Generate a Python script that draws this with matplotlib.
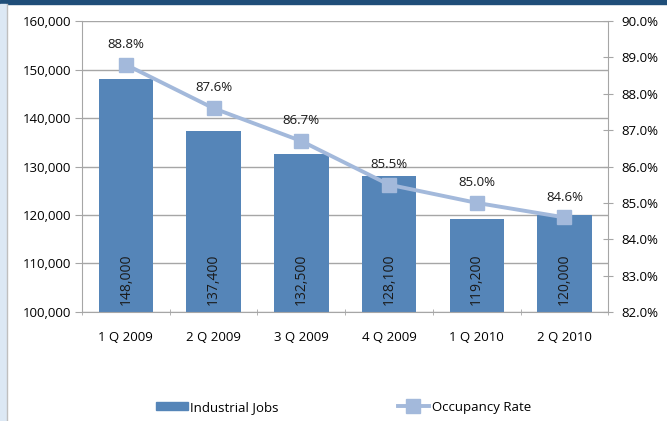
import numpy as np
import matplotlib.pyplot as plt
from matplotlib.patches import Rectangle
from matplotlib.lines import Line2D
from matplotlib.ticker import FuncFormatter

plt.rcParams['font.family'] = ['Open Sans', 'DejaVu Sans']

quarters = ['1 Q 2009', '2 Q 2009', '3 Q 2009', '4 Q 2009', '1 Q 2010', '2 Q 2010']
jobs = [148000, 137400, 132500, 128100, 119200, 120000]
occupancy = [88.8, 87.6, 86.7, 85.5, 85.0, 84.6]

bar_col = '#5585B8'
line_col = '#A3B9DB'
grid_col = '#A6A6A6'

fig = plt.figure(figsize=(6.67, 4.21), dpi=100)
fig.patch.set_facecolor('white')

# frame bits around the chart
fig.add_artist(Rectangle((0, 0.991), 1, 0.009, transform=fig.transFigure, color='#1F4E79', zorder=0))
fig.add_artist(Rectangle((0, 0), 0.009, 0.991, transform=fig.transFigure, color='#DCE8F4', zorder=0))
fig.add_artist(Line2D([0.0105, 0.0105], [0, 0.991], transform=fig.transFigure, color='#BFBFBF', lw=1))

ax = fig.add_axes([0.123, 0.259, 0.789, 0.691])
x = np.arange(len(quarters))
ax.bar(x, jobs, width=0.62, color=bar_col, zorder=2)
ax.set_ylim(100000, 160000)
ax.set_xlim(-0.5, len(quarters) - 0.5)
ax.set_yticks(np.arange(100000, 160001, 10000))
ax.yaxis.set_major_formatter(FuncFormatter(lambda v, p: f'{int(v):,}'))
ax.grid(axis='y', color=grid_col, lw=1, zorder=0)
ax.set_axisbelow(True)
ax.set_xticks(x)
ax.set_xticklabels(quarters)
ax.tick_params(axis='x', length=0, pad=14, labelsize=9.5)
ax.set_xticks(np.arange(-0.5, len(quarters)), minor=True)
ax.tick_params(axis='x', which='minor', length=5, direction='inout', color=grid_col)
ax.tick_params(axis='y', length=5, color=grid_col, labelsize=9.5, pad=3)
for s in ['top', 'right']:
    ax.spines[s].set_visible(False)
for s in ['left', 'bottom']:
    ax.spines[s].set_color(grid_col)

for xi, v in zip(x, jobs):
    ax.text(xi, 101500, f'{v:,}', rotation=90, ha='center', va='bottom', fontsize=10, color='#1a1a1a', zorder=3)

ax2 = ax.twinx()
ax2.plot(x, occupancy, color=line_col, lw=2.8, marker='s', markersize=10, zorder=4)
ax2.set_ylim(82, 90)
ax2.set_yticks(np.arange(82, 90.1, 1))
ax2.yaxis.set_major_formatter(FuncFormatter(lambda v, p: f'{v:.1f}%'))
ax2.tick_params(axis='y', length=7, direction='inout', color=grid_col, labelsize=9.5, pad=6)
for s in ['top', 'left', 'bottom']:
    ax2.spines[s].set_visible(False)
ax2.spines['right'].set_color(grid_col)
for xi, v in zip(x, occupancy):
    ax2.annotate(f'{v:.1f}%', (xi, v), xytext=(0, 10), textcoords='offset points',
                 ha='center', va='bottom', fontsize=9.5, color='#1a1a1a')

handles = [Rectangle((0, 0), 1, 1, color=bar_col),
           Line2D([0], [0], color=line_col, lw=2.8, marker='s', markersize=10)]
fig.legend(handles, ['Industrial Jobs', 'Occupancy Rate'], loc='center', bbox_to_anchor=(0.515, 0.033),
           ncol=2, frameon=False, fontsize=9.5, columnspacing=9, handlelength=2.4, handleheight=0.5,
           handletextpad=0.2)

fig.savefig('out.png', dpi=100)
